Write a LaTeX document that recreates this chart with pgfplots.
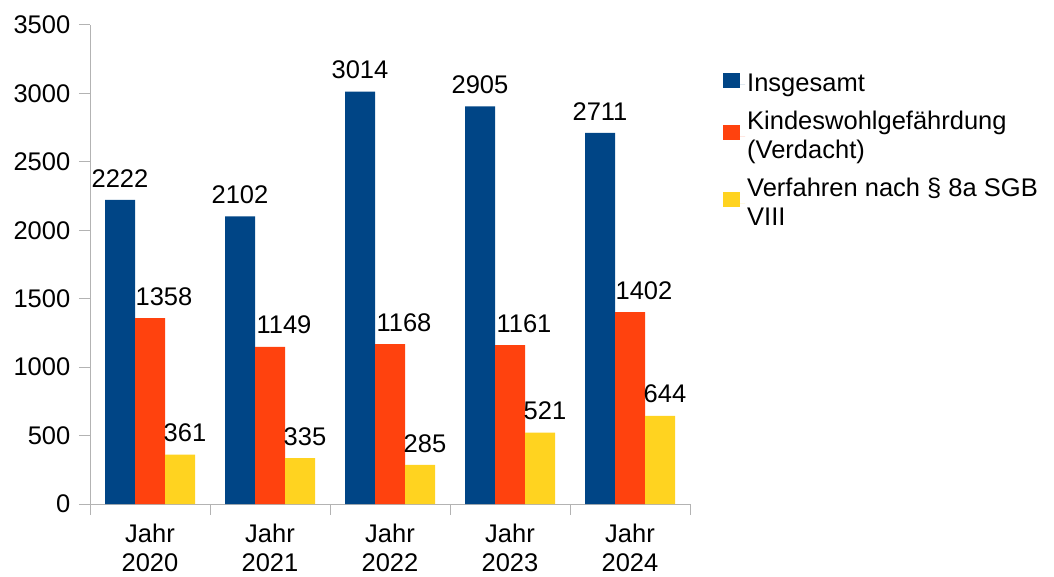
\documentclass[border=0pt]{standalone}
\usepackage{pgfplots}
\pgfplotsset{compat=1.18}
\usepackage{fontspec}
\setmainfont{Liberation Sans}
\definecolor{cblue}{HTML}{004586}
\definecolor{corange}{HTML}{FF420E}
\definecolor{cyellow}{HTML}{FFD320}
\definecolor{axgray}{HTML}{B3B3B3}
\begin{document}
\fontsize{25.5}{29}\selectfont
\begin{tikzpicture}
\useasboundingbox (0,0) rectangle (1054pt,576pt);
\begin{axis}[
  at={(90pt,72pt)}, anchor=south west,
  scale only axis, width=600pt, height=479pt,
  ybar=0pt, bar width=30pt,
  xmin=-0.5, xmax=4.5, ymin=0, ymax=3500,
  ytick={0,500,...,3500},
  scaled y ticks=false,
  /pgf/number format/1000 sep={},
  /pgf/number format/assume math mode=true,
  axis x line*=bottom, axis y line*=left,
  axis line style={axgray, line width=1pt},
  tick style={axgray, line width=1pt},
  tick align=outside,
  major tick length=11pt,
  xtick={-0.5,0.5,...,4.5}, xticklabels={},
  extra x ticks={0,1,2,3,4},
  extra x tick labels={{Jahr\\2020},{Jahr\\2021},{Jahr\\2022},{Jahr\\2023},{Jahr\\2024}},
  extra x tick style={major tick length=0pt, xticklabel style={align=center, text depth=0pt, yshift=-11pt}},
  clip=false,
  nodes near coords,
  nodes near coords style={anchor=south, yshift=4pt, black},
  legend style={draw=none, fill=none, at={(1,1)}, anchor=north west, xshift=30pt, yshift=-45pt,
    cells={anchor=west, align=left, inner ysep=6pt}, row sep=11.5pt},
  legend image code/.code={\fill[#1] (0pt,-3.5pt) rectangle (16.5pt,12pt); \path (16.5pt,0pt) -- (22pt,0pt);},
]
\addplot[fill=cblue, draw=none] coordinates {(0,2222) (1,2102) (2,3014) (3,2905) (4,2711)};
\addlegendentry{Insgesamt}
\addplot[fill=corange, draw=none, every node near coord/.append style={xshift=14pt}] coordinates {(0,1358) (1,1149) (2,1168) (3,1161) (4,1402)};
\addlegendentry{Kindeswohlgefährdung\\(Verdacht)}
\addplot[fill=cyellow, draw=none, every node near coord/.append style={xshift=5pt}] coordinates {(0,361) (1,335) (2,285) (3,521) (4,644)};
\addlegendentry{Verfahren nach § 8a SGB\\VIII}
\end{axis}
\end{tikzpicture}
\end{document}
